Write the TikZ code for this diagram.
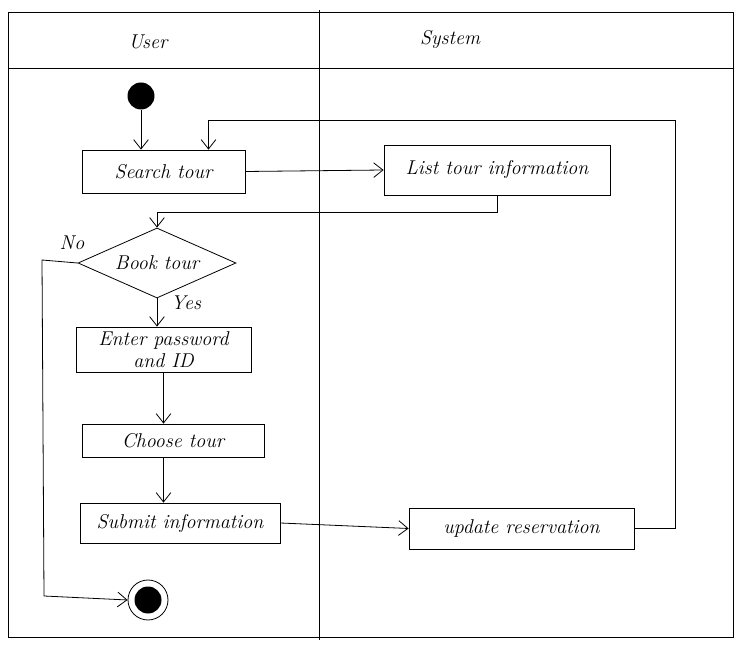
\documentclass[tikz,border=0pt]{standalone}
\usetikzlibrary{arrows.meta,shapes.geometric,calc}
\begin{document}
\begin{tikzpicture}[x=0.75pt,y=-0.75pt,
  every node/.style={font=\fontsize{15}{16}\selectfont\itshape},
  ln/.style={line width=0.6pt},
  arr/.style={ln,-{Straight Barb[length=7pt,width=11pt,line width=0.6pt]}},
  act/.style={draw,line width=0.6pt,rectangle,inner sep=0pt,align=center},
  lbl/.style={inner sep=0pt}]
\useasboundingbox (0,0) rectangle (747,645);
% frame and swimlanes
\draw[ln] (8,12) rectangle (733,637);
\draw[ln] (8,68) -- (733,68);
\draw[ln] (319,10) -- (319,640);
\node[lbl] (user) at (148,42) {User};
\node[lbl] (system) at (450,40) {System};
% nodes
\node[circle,fill=black,minimum size=27*0.75pt,inner sep=0pt] (start) at (141,96) {};
\node[act,minimum width=163*0.75pt,minimum height=43*0.75pt] (search) at (163.5,171.5) {Search tour};
\node[act,minimum width=226*0.75pt,minimum height=50*0.75pt] (list) at (497,170) {List tour information};
\node[diamond,draw,line width=0.6pt,aspect=2.26,minimum width=158*0.75pt,minimum height=70*0.75pt,inner sep=0pt] (book) at (157,263) {Book tour};
\node[act,minimum width=175*0.75pt,minimum height=45*0.75pt] (enter) at (163.5,349.5) {Enter password\\and ID};
\node[act,minimum width=182*0.75pt,minimum height=33*0.75pt] (choose) at (173,440.5) {Choose tour};
\node[act,minimum width=200*0.75pt,minimum height=40*0.75pt] (submit) at (180,523) {Submit information};
\node[act,minimum width=225*0.75pt,minimum height=41*0.75pt] (update) at (521.5,528.5) {update reservation};
\node[circle,draw,line width=0.6pt,minimum size=40*0.75pt,inner sep=0pt] (final) at (148,600) {};
\node[circle,fill=black,minimum size=27*0.75pt,inner sep=0pt] (finalin) at (148,600) {};
\node[lbl] (no) at (72,243) {No};
\node[lbl] (yes) at (186,303) {Yes};
% coordinates
\coordinate (loopc) at (675,120);
\coordinate (ret) at (497,212);
\coordinate (n1) at (42,260);
\coordinate (n2) at (44,596);
% connectors
\draw[arr] (start.south) -- (start.south |- search.north);
\draw[arr] (update.east) -| (loopc) -| ($(search.north)+(45,0)$);
\draw[arr] (search.east) -- (list.west);
\draw[arr] (list.south) -- (ret) -| (book.north);
\draw[arr] (book.south) -- (book.south |- enter.north);
\draw[arr] (enter.south) -- (enter.south |- choose.north);
\draw[arr] (choose.south -| enter.south) -- (enter.south |- submit.north);
\draw[arr] (submit.east) -- (update.west);
\draw[arr] (book.west) -- (n1) -- (n2) -- (final.west);
\end{tikzpicture}
\end{document}
